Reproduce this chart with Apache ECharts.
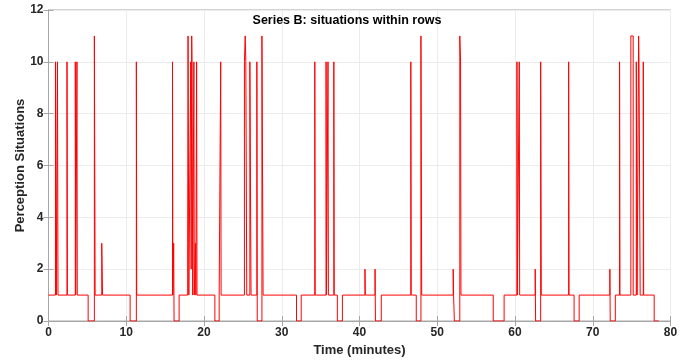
<!DOCTYPE html>
<html>
<head>
<meta charset="utf-8">
<script src="https://cdn.jsdelivr.net/npm/echarts@6/dist/echarts.min.js"></script>
<style>
  html, body { margin: 0; padding: 0; background: #ffffff; }
  #chart { width: 694px; height: 362px; }
</style>
</head>
<body>
<div id="chart"></div>
<script>
// change points (minutes) and the level held from that time on
const times = [
  0, 0.9, 1.0, 1.15, 1.22, 2.38, 2.43, 3.45, 3.5, 3.66, 3.7,
  5.1, 5.9, 6.0, 6.85, 6.95,
  10.5, 11.3, 11.35,
  15.95, 16.0, 16.1, 16.15, 16.8,
  17.9, 17.95, 18.05, 18.3, 18.35, 18.42, 18.46, 18.55, 18.7, 18.75, 18.9, 18.95, 19.05, 19.1,
  21.4, 21.95, 22.15, 22.2,
  25.2, 25.3, 25.38, 25.5, 25.9, 26.05, 26.8, 26.85, 27.45, 27.6,
  31.9, 32.5, 34.25, 34.3, 35.7, 35.75, 35.95, 36.0, 36.7, 36.75,
  37.15, 37.8, 40.7, 40.75, 42.0, 42.05, 42.8,
  46.6, 46.65, 47.3, 47.9, 48.0,
  52.05, 52.1, 52.2, 52.9, 53.0, 53.05,
  57.2, 58.6, 60.25, 60.3, 60.55, 60.6,
  62.6, 62.65, 63.3, 63.38, 66.9, 66.95, 67.6, 68.25,
  72.2, 72.25, 72.9, 73.45, 73.5,
  74.9, 75.2, 75.6, 75.7, 75.9, 75.95, 76.1, 76.5, 76.55,
  77.9, 78.5
];
const levels = [
  1, 10, 1, 10, 1, 10, 1, 10, 1, 10, 1,
  0, 11, 1, 3, 1,
  0, 10, 1,
  10, 1, 3, 0, 1,
  3, 11, 1, 10, 2, 11, 10, 1, 10, 1, 3, 1, 10, 1,
  0, 1, 10, 1,
  10, 11, 10, 1, 10, 1, 10, 0, 11, 1,
  0, 1, 10, 1, 10, 1, 10, 1, 10, 1,
  0, 1, 2, 1, 2, 0, 1,
  10, 1, 0, 11, 1,
  2, 1, 0, 11, 10, 1,
  0, 1, 10, 1, 10, 1,
  2, 0, 10, 1, 10, 1, 0, 1,
  2, 0, 1, 10, 1,
  11, 1, 10, 1, 11, 10, 1, 10, 1,
  0, 0
];
const xTicks = [0, 10, 20, 30, 40, 50, 60, 70, 80];
const yTicks = [0, 2, 4, 6, 8, 10, 12];

const chart = echarts.init(document.getElementById('chart'));

const labelFont = {
  fontFamily: 'Liberation Sans, Arial, sans-serif',
  fontWeight: 'bold',
  fontSize: 12,
  color: '#262626',
};
const boxColor = '#a6a6a6';

const option = {
  animation: false,
  title: {
    text: 'Series B: situations within rows',
    left: 'center',
    top: 9,
    textStyle: {
      fontFamily: 'Liberation Sans, Arial, sans-serif',
      fontWeight: 'bold',
      fontSize: 12.5,
      color: '#000000',
    },
  },
  grid: {
    left: 48.5,
    right: 23.5,
    top: 10,
    bottom: 41,
    show: true,
    borderColor: boxColor,
    borderWidth: 1,
  },
  xAxis: [
    {
      type: 'value',
      min: xTicks[0],
      max: xTicks[xTicks.length - 1],
      interval: 10,
      name: 'Time (minutes)',
      nameLocation: 'middle',
      nameGap: 21,
      nameTextStyle: { ...labelFont, fontSize: 13 },
      axisLine: { lineStyle: { color: boxColor } },
      axisTick: { inside: true, length: 5, lineStyle: { color: boxColor } },
      axisLabel: { ...labelFont, margin: 6 },
      splitLine: { show: true, lineStyle: { color: '#ececec' } },
    },
    {
      type: 'value',
      position: 'top',
      min: 0,
      max: 80,
      interval: 10,
      axisLine: { show: true, lineStyle: { color: boxColor } },
      axisTick: { inside: true, length: 5, lineStyle: { color: boxColor } },
      axisLabel: { show: false },
      splitLine: { show: false },
    },
  ],
  yAxis: [
    {
      type: 'value',
      min: yTicks[0],
      max: yTicks[yTicks.length - 1],
      interval: 2,
      name: 'Perception Situations',
      nameLocation: 'middle',
      nameGap: 22,
      nameMoveOverlap: false,
      nameTextStyle: { ...labelFont, fontSize: 13 },
      axisLine: { show: true, lineStyle: { color: boxColor } },
      axisTick: { show: true, inside: true, length: 5, lineStyle: { color: boxColor } },
      axisLabel: { ...labelFont, margin: 5 },
      splitLine: { show: true, lineStyle: { color: '#ececec' } },
    },
    {
      type: 'value',
      position: 'right',
      min: 0,
      max: 12,
      interval: 2,
      axisLine: { show: true, lineStyle: { color: boxColor } },
      axisTick: { show: true, inside: true, length: 5, lineStyle: { color: boxColor } },
      axisLabel: { show: false },
      splitLine: { show: false },
    },
  ],
  series: [
    {
      type: 'line',
      step: 'end',
      xAxisIndex: 0,
      yAxisIndex: 0,
      data: times.map((t, i) => [t, levels[i]]),
      showSymbol: false,
      lineStyle: { color: '#ff0000', width: 1 },
      silent: true,
    },
  ],
};

chart.setOption(option);
</script>
</body>
</html>
